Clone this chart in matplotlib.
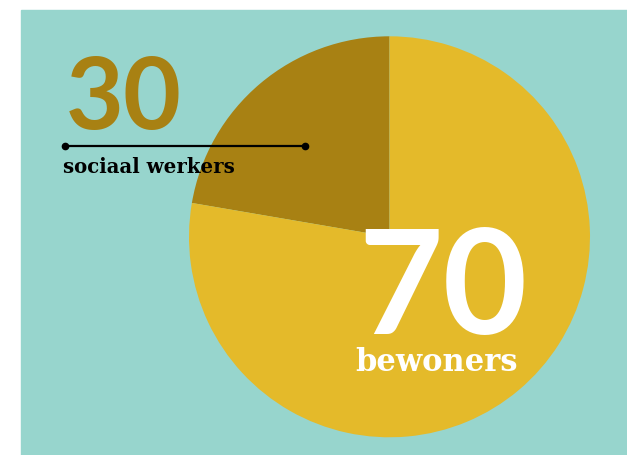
import matplotlib.pyplot as plt
from matplotlib.patches import Rectangle

labels = ["sociaal werkers", "bewoners"]
values = [30, 70]
# wedge shares as drawn in the picture (dark wedge spans ~80 degrees)
shares = [22.3, 77.7]
colors = ["#A88113", "#E4BA2A"]
teal = "#97D5CD"

fig = plt.figure(figsize=(6.27, 4.55), dpi=100, facecolor="white")
ax = fig.add_axes([0, 0, 1, 1])

# teal panel
ax.add_patch(Rectangle((21, 0), 606, 445, color=teal, zorder=0))

# pie
ax.pie(shares, colors=colors, startangle=90, counterclock=True,
       center=(389.5, 218.2), radius=200.5,
       wedgeprops=dict(linewidth=0, zorder=1))

ax.set_xlim(0, 627)
ax.set_ylim(0, 455)
ax.set_aspect("auto")
ax.axis("off")

# 30 sociaal werkers
ax.text(66, 326, str(values[0]), color=colors[0], fontsize=72,
        fontfamily="Lato", fontweight="bold", ha="left", va="baseline", zorder=3)
ax.plot([65, 305], [309, 309], color="black", lw=1.6, marker="o",
        markersize=4.5, zorder=3)
ax.text(63, 282, labels[0], color="black", fontsize=14.2,
        fontfamily="DejaVu Serif", fontweight="bold", ha="left", va="baseline", zorder=3)

# 70 bewoners
ax.text(443, 121, str(values[1]), color="white", fontsize=105,
        fontfamily="Lato", fontweight="bold", ha="center", va="baseline", zorder=3)
ax.text(436.5, 84, labels[1], color="white", fontsize=22,
        fontfamily="DejaVu Serif", fontweight="bold", ha="center", va="baseline", zorder=3)

fig.savefig("out.png", dpi=100, facecolor="white")
